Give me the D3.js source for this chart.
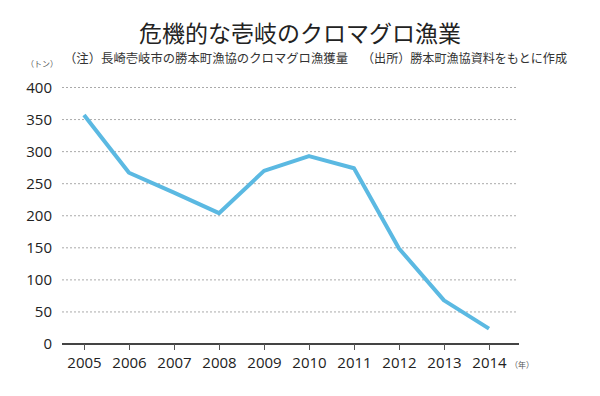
<!DOCTYPE html>
<html>
<head>
<meta charset="utf-8">
<script src="https://cdn.jsdelivr.net/npm/d3@7"></script>
<style>
  body { margin: 0; background: #fff; }
  svg { display: block; font-family: "Noto Sans CJK JP", sans-serif; }
</style>
</head>
<body>
<svg id="chart" width="600" height="396"></svg>
<script>
// Data: Katsumoto fishery cooperative bluefin tuna catch (tons)
var years = ['2005', '2006', '2007', '2008', '2009', '2010', '2011', '2012', '2013', '2014'];
var catchTons = [357, 267, 236, 204, 270, 293, 274, 149, 68, 24];
var yTicks = [0, 50, 100, 150, 200, 250, 300, 350, 400];

var svg = d3.select('#chart');

var x = d3.scalePoint().domain(years).range([84, 489]);
var y = d3.scaleLinear().domain([0, 400]).range([344, 87.5]);

// Title and notes
svg.append('text').attr('x', 300).attr('y', 42).attr('text-anchor', 'middle')
  .attr('font-size', 23).attr('fill', '#222').text('危機的な壱岐のクロマグロ漁業');
svg.append('text').attr('x', 64).attr('y', 63)
  .attr('font-size', 12.5).attr('fill', '#333')
  .attr('textLength', 284).attr('lengthAdjust', 'spacingAndGlyphs')
  .text('（注）長崎壱岐市の勝本町漁協のクロマグロ漁獲量');
svg.append('text').attr('x', 362).attr('y', 63)
  .attr('font-size', 12.5).attr('fill', '#333')
  .attr('textLength', 205).attr('lengthAdjust', 'spacingAndGlyphs')
  .text('（出所）勝本町漁協資料をもとに作成');
svg.append('text').attr('x', 26).attr('y', 67)
  .attr('font-size', 8).attr('fill', '#555').text('（トン）');

// Gridlines
svg.append('g').selectAll('line').data(yTicks.filter(function(d) { return d > 0; }))
  .join('line')
  .attr('x1', 62).attr('x2', 518)
  .attr('y1', function(d) { return y(d); }).attr('y2', function(d) { return y(d); })
  .attr('stroke', '#aaa').attr('stroke-width', 1).attr('stroke-dasharray', '2,2');

// Y labels
svg.append('g').selectAll('text').data(yTicks).join('text')
  .attr('x', 52).attr('y', function(d) { return y(d) + 5; })
  .attr('text-anchor', 'end').attr('font-size', 15)
  .attr('font-family', '"Open Sans", sans-serif').attr('fill', '#222')
  .text(function(d) { return d; });

// X axis
var xAxis = d3.axisBottom(x).tickSize(6).tickPadding(7);
var gx = svg.append('g').attr('transform', 'translate(0,' + y(0) + ')').call(xAxis);
gx.select('.domain').attr('d', 'M62,0H519').attr('stroke', '#444').attr('stroke-width', 2);
gx.selectAll('.tick line').attr('stroke', '#555');
gx.selectAll('.tick text').attr('font-size', 15).attr('fill', '#222')
  .attr('font-family', '"Open Sans", sans-serif');
svg.append('text').attr('x', 510).attr('y', 368)
  .attr('font-size', 8).attr('fill', '#555').text('（年）');

// Line
var line = d3.line()
  .x(function(d, i) { return x(years[i]); })
  .y(function(d) { return y(d); });
svg.append('path').datum(catchTons)
  .attr('d', line).attr('fill', 'none')
  .attr('stroke', '#5bb9e2').attr('stroke-width', 4)
  .attr('stroke-linejoin', 'round');
</script>
</body>
</html>
